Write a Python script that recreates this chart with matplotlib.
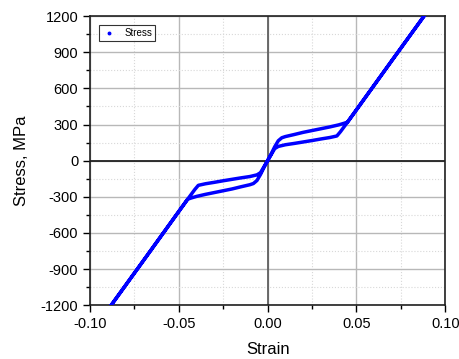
import matplotlib
matplotlib.use("Agg")
import matplotlib.pyplot as plt
from matplotlib.ticker import MultipleLocator

plt.rcParams['font.family'] = ['Liberation Sans', 'DejaVu Sans']
plt.rcParams['axes.unicode_minus'] = False

# Cyclic stress-strain record: unload from compression, load in tension,
# unload from tension, load in compression.
strain = [
    -0.090, -0.080, -0.070, -0.060, -0.050, -0.045, -0.041, -0.039,
    -0.035, -0.030, -0.025, -0.020, -0.015, -0.010, -0.006, -0.004,
    -0.002, 0.000, 0.002, 0.004, 0.006, 0.008, 0.010, 0.015, 0.020,
    0.025, 0.030, 0.035, 0.040, 0.043, 0.045, 0.050, 0.060, 0.070,
    0.080, 0.090,
    0.080, 0.070, 0.060, 0.050, 0.045, 0.041, 0.039, 0.035, 0.030,
    0.025, 0.020, 0.015, 0.010, 0.006, 0.004, 0.002, 0.000, -0.002,
    -0.004, -0.006, -0.008, -0.010, -0.015, -0.020, -0.025, -0.030,
    -0.035, -0.040, -0.043, -0.045, -0.050, -0.060, -0.070, -0.080,
    -0.090,
]
stress = [
    -1240, -1036, -832, -627, -422, -320, -240, -205,
    -192, -180, -167, -155, -143, -132, -118, -100,
    -50, 0, 55, 115, 165, 190, 200, 217, 235,
    250, 265, 280, 297, 310, 320, 422, 627, 832,
    1036, 1240,
    1036, 832, 627, 422, 320, 240, 205, 192, 180,
    167, 155, 143, 132, 118, 100, 50, 0, -55,
    -115, -165, -190, -200, -217, -235, -250, -265,
    -280, -297, -310, -320, -422, -627, -832, -1036,
    -1240,
]

fig = plt.figure(figsize=(4.59, 3.59), dpi=100)
ax = fig.add_axes([0.196, 0.150, 0.774, 0.805])

ax.plot(strain, stress, color="#0000ff", lw=2.5, label="Stress",
        solid_joinstyle="round", zorder=3)

ax.set_xlim(-0.10, 0.10)
ax.set_ylim(-1200, 1200)
ax.xaxis.set_major_locator(MultipleLocator(0.05))
ax.xaxis.set_minor_locator(MultipleLocator(0.025))
ax.yaxis.set_major_locator(MultipleLocator(300))
ax.yaxis.set_minor_locator(MultipleLocator(150))
ax.xaxis.set_major_formatter(plt.FuncFormatter(lambda v, p: f"{v:.2f}"))

ax.grid(which="major", color="#b8b8b8", lw=1.0, ls="-")
ax.grid(which="minor", color="#d8d8d8", lw=0.8, ls=":")
ax.set_axisbelow(True)
ax.axhline(0, color="#202020", lw=1.3, zorder=2)
ax.axvline(0, color="#606060", lw=1.3, zorder=2)

ax.tick_params(which="major", direction="out", length=5, width=1.0,
               labelsize=10.5, colors="black")
ax.tick_params(which="minor", direction="out", length=3, width=1.0)
for s in ax.spines.values():
    s.set_linewidth(1.2)
    s.set_color("#202020")

ax.set_xlabel("Strain", fontsize=12, labelpad=8)
ax.set_ylabel("Stress, MPa", fontsize=12, labelpad=8)

leg = ax.legend(loc="upper left", fontsize=7, frameon=True, fancybox=False,
                markerscale=1, handlelength=1.5, borderpad=0.3,
                bbox_to_anchor=(0.012, 0.985))
leg.get_frame().set_edgecolor("black")
leg.get_frame().set_linewidth(0.8)
leg.legend_handles[0].set_linestyle("none")
leg.legend_handles[0].set_marker("o")
leg.legend_handles[0].set_markersize(1.8)

fig.savefig("out.png", dpi=100)
